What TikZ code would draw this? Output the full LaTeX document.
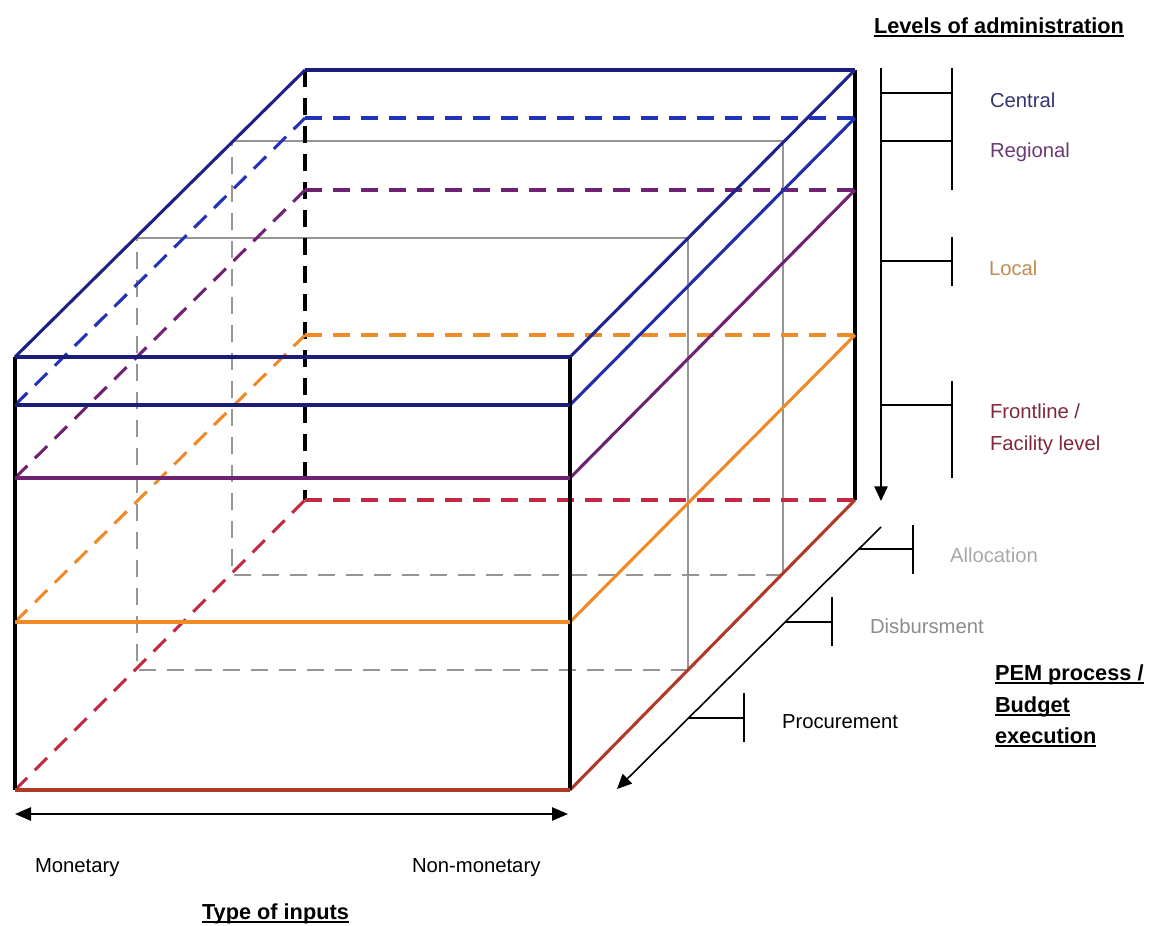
\documentclass[tikz,border=0pt]{standalone}
\usepackage{fontspec}
\setmainfont{Liberation Sans}
\usetikzlibrary{arrows.meta}
\definecolor{cnavy}{HTML}{1C1C7A}
\definecolor{cblue}{HTML}{2233B8}
\definecolor{cpurple}{HTML}{702272}
\definecolor{corange}{HTML}{F08A28}
\definecolor{cred}{HTML}{C42840}
\definecolor{cbrown}{HTML}{B03A26}
\definecolor{cgray}{HTML}{959595}
\definecolor{tcentral}{HTML}{34346E}
\definecolor{tregional}{HTML}{6A3A76}
\definecolor{tlocal}{HTML}{C08C50}
\definecolor{tfront}{HTML}{80283A}
\definecolor{talloc}{HTML}{A8A8A8}
\definecolor{tdisb}{HTML}{8C8C8C}
\begin{document}
\begin{tikzpicture}[x=0.75pt,y=-0.75pt,
  cubeline/.style={line width=2.3pt},
  dsh/.style={dash pattern=on 13pt off 8pt},
  grayline/.style={line width=2.1pt, draw=cgray},
  axarrow/.style={line width=1.2pt, -{Triangle[length=11pt,width=10pt]}},
  axarrowtwo/.style={line width=1.3pt, {Triangle[length=12pt,width=10pt]}-{Triangle[length=12pt,width=10pt]}},
  tickline/.style={line width=1.1pt},
  lab/.style={anchor=base west, inner sep=0pt, outer sep=0pt, font=\fontsize{15.2pt}{18pt}\selectfont},
  ttl/.style={anchor=base west, inner sep=0pt, outer sep=0pt, font=\fontsize{16.3pt}{19pt}\selectfont\bfseries},
  ulline/.style={line width=1.6pt}
]
\useasboundingbox (0,0) rectangle (1152,925);

% cube corners per level (front / back)
\coordinate (fLc) at (15,357);  \coordinate (fRc) at (570,357);
\coordinate (bLc) at (305,70);  \coordinate (bRc) at (855,70);
\coordinate (fLr) at (15,405);  \coordinate (fRr) at (570,405);
\coordinate (bLr) at (305,118); \coordinate (bRr) at (855,118);
\coordinate (fLp) at (15,478);  \coordinate (fRp) at (570,478);
\coordinate (bLp) at (305,190); \coordinate (bRp) at (855,190);
\coordinate (fLo) at (15,622);  \coordinate (fRo) at (570,622);
\coordinate (bLo) at (305,335); \coordinate (bRo) at (855,335);
\coordinate (fLb) at (15,790);  \coordinate (fRb) at (570,790);
\coordinate (bLb) at (305,500); \coordinate (bRb) at (855,500);

% gray cross sections
\coordinate (a1) at (232,141); \coordinate (a2) at (783,141);
\coordinate (a3) at (783,575); \coordinate (a4) at (232,575);
\coordinate (d1) at (137,238); \coordinate (d2) at (688,238);
\coordinate (d3) at (688,670); \coordinate (d4) at (137,670);
\draw[grayline] (a1) -- (a2) -- (a3);
\draw[grayline,dsh] (a3) -- (a4) -- (a1);
\draw[grayline] (d1) -- (d2) -- (d3);
\draw[grayline,dsh] (d3) -- (d4) -- (d1);

% back verticals
\draw[cubeline,dsh] (bLc) -- (bLb);
\draw[cubeline] (bRc) -- (bRb);

% back horizontals
\draw[cubeline,cnavy] (bLc) -- (bRc);
\draw[cubeline,dsh,cblue] (bLr) -- (bRr);
\draw[cubeline,dsh,cpurple] (bLp) -- (bRp);
\draw[cubeline,dsh,corange] (bLo) -- (bRo);
\draw[cubeline,dsh,cred] (bLb) -- (bRb);

% left diagonals
\draw[cubeline,cnavy!80!cblue] (fLc) -- (bLc);
\draw[cubeline,dsh,cblue] (fLr) -- (bLr);
\draw[cubeline,dsh,cpurple] (fLp) -- (bLp);
\draw[cubeline,dsh,corange] (fLo) -- (bLo);
\draw[cubeline,dsh,cred] (fLb) -- (bLb);

% right diagonals
\draw[cubeline,cnavy!70!cblue] (fRc) -- (bRc);
\draw[cubeline,cblue!80!cnavy] (fRr) -- (bRr);
\draw[cubeline,cpurple] (fRp) -- (bRp);
\draw[cubeline,corange] (fRo) -- (bRo);
\draw[cubeline,cbrown] (fRb) -- (bRb);

% front face
\draw[cubeline] (fLc) -- (fLb);
\draw[cubeline] (fRc) -- (fRb);
\draw[cubeline,cnavy] (fLc) -- (fRc);
\draw[cubeline,cnavy] (fLr) -- (fRr);
\draw[cubeline,cpurple] (fLp) -- (fRp);
\draw[cubeline,corange] (fLo) -- (fRo);
\draw[cubeline,cbrown] (fLb) -- (fRb);

% levels axis
\coordinate (v0) at (881,68); \coordinate (v1) at (881,501);
\draw[axarrow] (v0) -- (v1);
\draw[tickline] (881,93) -- (952,93);
\draw[tickline] (881,141) -- (952,141);
\draw[tickline] (952,68) -- (952,190);
\draw[tickline] (881,261) -- (952,261);
\draw[tickline] (952,237) -- (952,286);
\draw[tickline] (881,405) -- (952,405);
\draw[tickline] (952,381) -- (952,478);

% process axis
\coordinate (p0) at (881,527); \coordinate (p1) at (617,789);
\draw[axarrow] (p0) -- (p1);
\draw[tickline] (859,549) -- (913,549);
\draw[tickline] (913,525) -- (913,574);
\draw[tickline] (785,622) -- (832,622);
\draw[tickline] (832,597) -- (832,646);
\draw[tickline] (689,718) -- (744,718);
\draw[tickline] (744,693) -- (744,742);

% inputs axis
\coordinate (h0) at (15,814); \coordinate (h1) at (568,814);
\draw[axarrowtwo] (h0) -- (h1);

% labels
\node[lab,text=tcentral] (central) at (990,107) {Central};
\node[lab,text=tregional] (regional) at (990,157) {Regional};
\node[lab,text=tlocal] (local) at (989,275) {Local};
\node[lab,text=tfront] (front1) at (990,418) {Frontline /};
\node[lab,text=tfront] (front2) at (990,450) {Facility level};
\node[lab,text=talloc] (alloc) at (950,562) {Allocation};
\node[lab,text=tdisb] (disb) at (870,633) {Disbursment};
\node[lab] (proc) at (782,728) {Procurement};
\node[lab] (mon) at (35,872) {Monetary};
\node[lab] (nonmon) at (412,872) {Non-monetary};

% titles
\node[ttl] (tlev) at (874,33) {Levels of administration};
\draw[ulline] ([yshift=-2.4pt]tlev.base west) -- ([yshift=-2.4pt]tlev.base east);
\node[ttl] (pem1) at (995,680) {PEM process /};
\draw[ulline] ([yshift=-2.4pt]pem1.base west) -- ([yshift=-2.4pt]pem1.base east);
\node[ttl] (pem2) at (995,712) {Budget};
\draw[ulline] ([yshift=-2.4pt]pem2.base west) -- ([yshift=-2.4pt]pem2.base east);
\node[ttl] (pem3) at (995,743) {execution};
\draw[ulline] ([yshift=-2.4pt]pem3.base west) -- ([yshift=-2.4pt]pem3.base east);
\node[ttl] (ttype) at (202,919) {Type of inputs};
\draw[ulline] ([yshift=-2.0pt]ttype.base west) -- ([yshift=-2.0pt]ttype.base east);
\end{tikzpicture}
\end{document}
